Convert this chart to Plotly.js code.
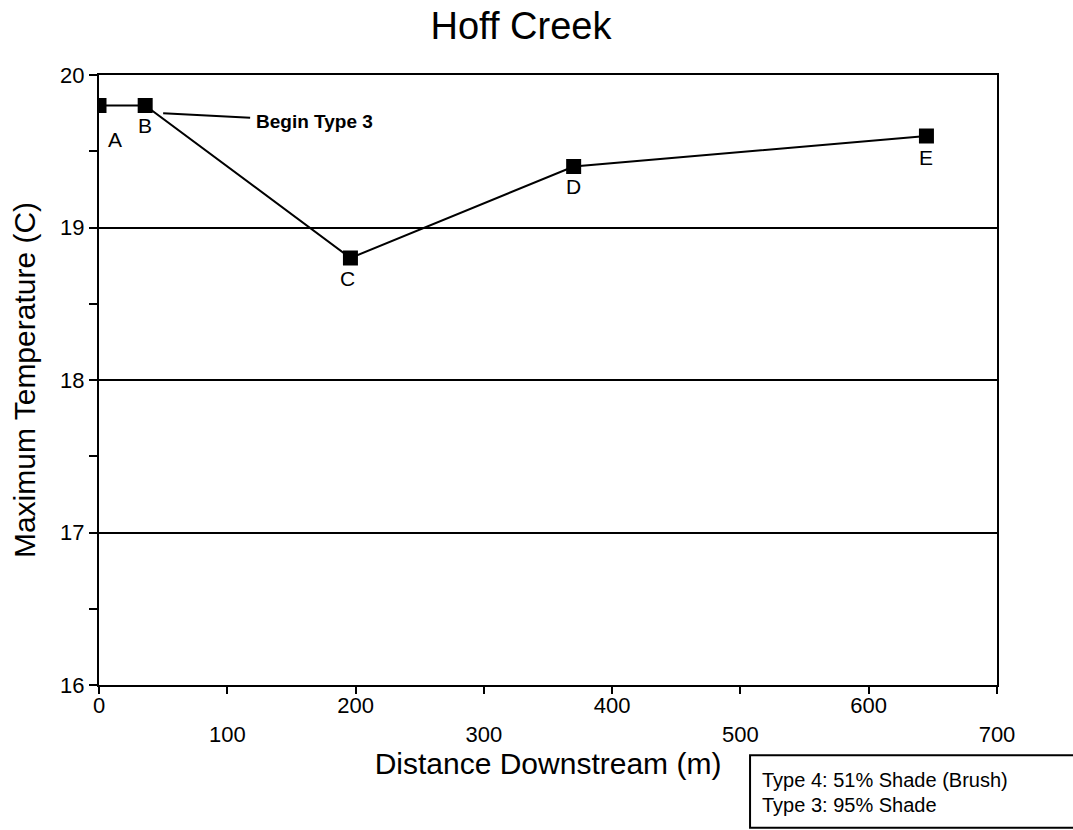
<!DOCTYPE html>
<html>
<head>
<meta charset="utf-8">
<script src="https://cdn.plot.ly/plotly-3.0.1.min.js"></script>
<style>html,body{margin:0;padding:0;background:#fff;}#chart{width:1073px;height:830px;}</style>
</head>
<body>
<div id="chart"></div>
<script>
// Data
const siteLabels = ['A', 'B', 'C', 'D', 'E'];
const distance = [0, 36, 196, 370, 645];
const maxTemp = [19.8, 19.8, 18.8, 19.4, 19.6];
const xTickVals = [0, 100, 200, 300, 400, 500, 600, 700];
const xTickText = ['0', '<br>100', '200', '<br>300', '400', '<br>500', '600', '<br>700'];
const yTickVals = [16, 17, 18, 19, 20];
const legendLines = ['Type 4: 51% Shade (Brush)', 'Type 3: 95% Shade'];

const FONT = 'Liberation Sans, Arial, Helvetica, sans-serif';

const trace = {
  x: distance,
  y: maxTemp,
  mode: 'lines+markers',
  type: 'scatter',
  line: {color: '#000', width: 2},
  marker: {symbol: 'square', size: 15, color: '#000'},
  hoverinfo: 'x+y',
  showlegend: false
};

const labelShift = {A: [16, -34], B: [0, -20], C: [-3, -20], D: [0, -20], E: [0, -21]};
const annotations = siteLabels.map((s, i) => ({
  x: distance[i], y: maxTemp[i], xref: 'x', yref: 'y',
  text: s, showarrow: false,
  xshift: labelShift[s][0], yshift: labelShift[s][1],
  font: {family: FONT, size: 21, color: '#000'}
}));

annotations.push({
  x: 50, y: 19.75, xref: 'x', yref: 'y',
  text: '<b>Begin Type 3</b>',
  showarrow: true, arrowhead: 0, arrowwidth: 2, arrowcolor: '#000',
  axref: 'pixel', ayref: 'pixel', ax: 151, ay: 8,
  standoff: 0, startstandoff: 4,
  font: {family: FONT, size: 19, color: '#000'}
});

const legendY = [-0.155, -0.197];
legendLines.forEach((t, i) => annotations.push({
  x: 0.736, y: legendY[i], xref: 'paper', yref: 'paper',
  xanchor: 'left', yanchor: 'middle', align: 'left',
  text: t, showarrow: false,
  font: {family: FONT, size: 20, color: '#000'}
}));

const layout = {
  width: 1073, height: 830,
  margin: {l: 99, r: 76, t: 75, b: 145},
  paper_bgcolor: '#fff', plot_bgcolor: '#fff',
  font: {family: FONT, color: '#000'},
  title: {
    text: 'Hoff Creek',
    font: {family: FONT, size: 38, color: '#000'},
    x: 521 / 1073, xanchor: 'center',
    y: 1 - 26 / 830, yanchor: 'middle'
  },
  xaxis: {
    range: [0, 700],
    tickvals: xTickVals, ticktext: xTickText,
    ticks: 'outside', ticklen: 7, tickwidth: 2, tickcolor: '#000',
    ticklabelstandoff: -7,
    showgrid: false, zeroline: false,
    showline: true, linecolor: '#000', linewidth: 2, mirror: true,
    tickfont: {family: FONT, size: 22, color: '#000'},
    title: {text: 'Distance Downstream (m)', font: {family: FONT, size: 30, color: '#000'}, standoff: 4}
  },
  yaxis: {
    range: [16, 20],
    tickvals: yTickVals,
    ticks: 'outside', ticklen: 8, tickwidth: 2, tickcolor: '#000',
    showgrid: true, gridcolor: '#000', gridwidth: 2,
    zeroline: false,
    showline: true, linecolor: '#000', linewidth: 2, mirror: true,
    tickfont: {family: FONT, size: 22, color: '#000'},
    minor: {dtick: 0.5, ticks: 'outside', ticklen: 8, tickwidth: 2, tickcolor: '#000', showgrid: false},
    title: {text: 'Maximum Temperature (C)', font: {family: FONT, size: 30, color: '#000'}, standoff: 16}
  },
  shapes: [{
    type: 'rect', xref: 'paper', yref: 'paper',
    x0: 0.725, x1: 1.1, y0: -0.234, y1: -0.115,
    line: {color: '#000', width: 2}, fillcolor: 'rgba(0,0,0,0)'
  }],
  annotations: annotations
};

Plotly.newPlot('chart', [trace], layout, {displayModeBar: false, staticPlot: true});
</script>
</body>
</html>
